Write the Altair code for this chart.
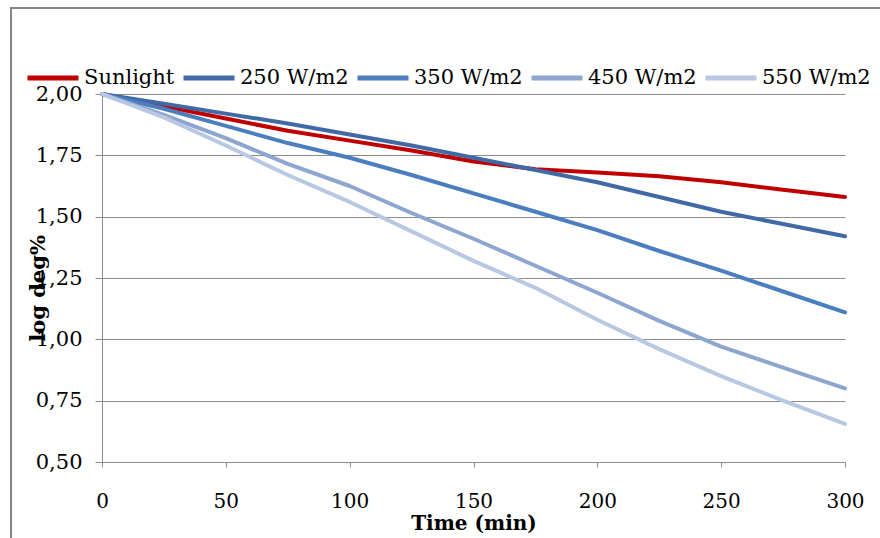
import altair as alt
import pandas as pd

# Degradation curves: log of remaining degree (%) over irradiation time
time_min = [0, 25, 50, 75, 100, 125, 150, 175, 200, 225, 250, 275, 300]
sunlight = [2.00, 1.95, 1.90, 1.85, 1.81, 1.77, 1.725, 1.693, 1.68, 1.665, 1.64, 1.61, 1.58]
w250 = [2.00, 1.96, 1.92, 1.88, 1.835, 1.79, 1.74, 1.69, 1.64, 1.58, 1.52, 1.47, 1.42]
w350 = [2.00, 1.94, 1.87, 1.80, 1.74, 1.67, 1.595, 1.52, 1.445, 1.36, 1.28, 1.195, 1.11]
w450 = [2.00, 1.915, 1.82, 1.715, 1.625, 1.515, 1.41, 1.30, 1.19, 1.075, 0.97, 0.885, 0.80]
w550 = [2.00, 1.905, 1.79, 1.67, 1.56, 1.44, 1.32, 1.21, 1.08, 0.96, 0.85, 0.75, 0.655]

series_names = ["Sunlight", "250 W/m2", "350 W/m2", "450 W/m2", "550 W/m2"]
series_values = [sunlight, w250, w350, w450, w550]
series_colors = ["#C00000", "#4069A6", "#4A7EBE", "#8DA6CF", "#B9C8E2"]

y_ticks = [0.50, 0.75, 1.00, 1.25, 1.50, 1.75, 2.00]
x_ticks = [0, 50, 100, 150, 200, 250, 300]

rows = []
for name, vals in zip(series_names, series_values):
    for t, v in zip(time_min, vals):
        rows.append({"time": t, "value": v, "series": name})
df = pd.DataFrame(rows)

FONT = "DejaVu Serif"
GRID = "#8C8C8C"

lines = alt.Chart(df).mark_line(strokeWidth=4, strokeCap="round", strokeJoin="round").encode(
    x=alt.X(
        "time:Q",
        scale=alt.Scale(domain=[0, 300], nice=False),
        axis=alt.Axis(
            values=x_ticks,
            title="Time (min)",
            grid=False,
            domainColor=GRID,
            tickColor=GRID,
            tickSize=5,
            labelFlush=False,
            labelPadding=24,
            labelFont=FONT,
            labelFontSize=20,
            labelColor="#000000",
            titleFont=FONT,
            titleFontSize=20,
            titleFontWeight="bold",
            titleColor="#000000",
            titlePadding=2,
        ),
    ),
    y=alt.Y(
        "value:Q",
        scale=alt.Scale(domain=[0.5, 2.0], nice=False),
        axis=alt.Axis(
            values=y_ticks,
            title="log deg%",
            labelExpr="replace(format(datum.value, '.2f'), '.', ',')",
            grid=True,
            gridColor=GRID,
            gridWidth=1,
            domainColor=GRID,
            tickColor=GRID,
            tickSize=7,
            labelPadding=13,
            labelFont=FONT,
            labelFontSize=21,
            labelColor="#000000",
            titleFont=FONT,
            titleFontSize=21,
            titleFontWeight="bold",
            titleColor="#000000",
            titleX=-64,
            titleY=194,
            titleAlign="center",
            titleBaseline="middle",
        ),
    ),
    color=alt.Color(
        "series:N",
        scale=alt.Scale(domain=series_names, range=series_colors),
        legend=alt.Legend(
            title=None,
            orient="none",
            direction="horizontal",
            legendX=-77,
            legendY=-44,
            symbolType="stroke",
            symbolSize=2600,
            symbolStrokeWidth=5,
            labelFont=FONT,
            labelFontSize=21,
            labelColor="#000000",
            labelOffset=3,
            labelLimit=300,
            columnPadding=-2,
        ),
    ),
    order="time:Q",
)

# outer chart border
frame = alt.Chart(pd.DataFrame({"k": [0]})).mark_rect(
    filled=False, stroke="#868686", strokeWidth=2
).encode(
    x=alt.value(-91),
    x2=alt.value(900),
    y=alt.value(-86),
    y2=alt.value(520),
)

chart = alt.layer(frame, lines).properties(
    width=743,
    height=368,
    autosize=alt.AutoSizeParams(type="none"),
    padding={"left": 102, "top": 94, "right": 35, "bottom": 76},
    background="#FFFFFF",
).configure_view(stroke=None)

chart.save("out.html", embed_options={"renderer": "svg", "actions": False})
